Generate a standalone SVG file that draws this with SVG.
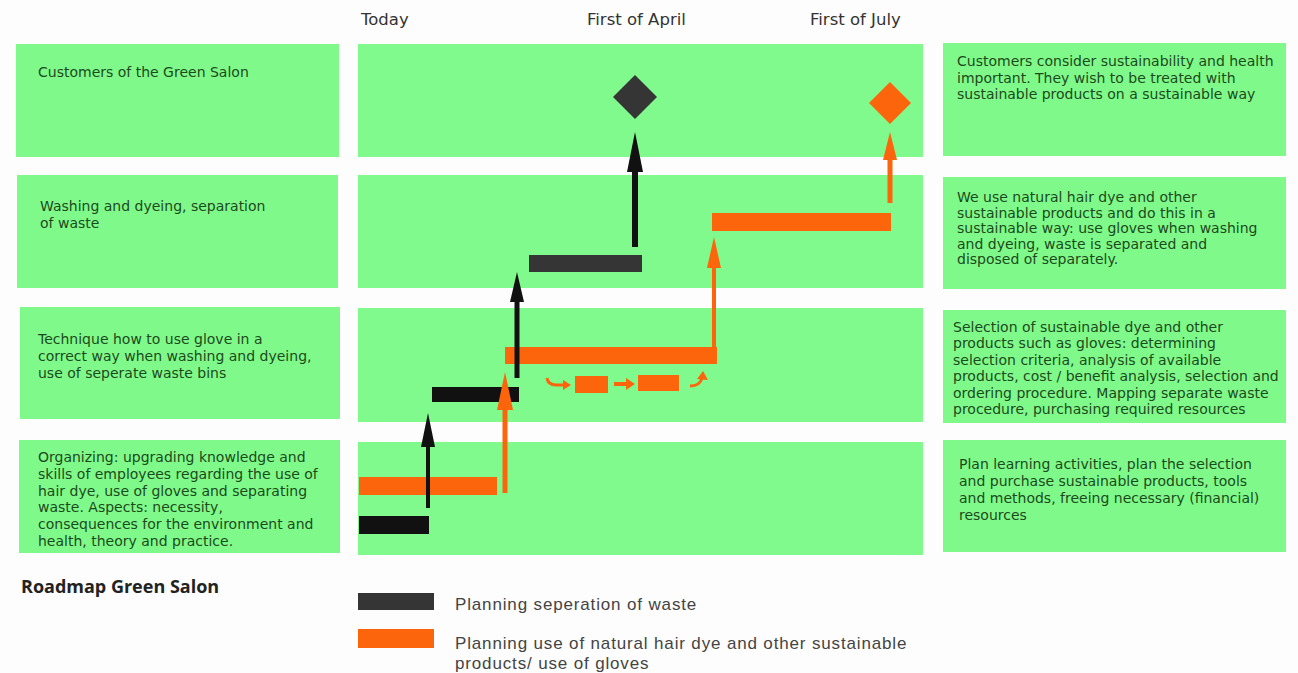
<svg xmlns="http://www.w3.org/2000/svg" width="1298" height="673" viewBox="0 0 1298 673">
<style>
.box{fill:#7ffa8a}
.mid{fill:#80fa8c}
.t{font-family:"DejaVu Sans",Verdana,sans-serif;font-size:14px;fill:#1c4a1c}
.hdr{font-family:"DejaVu Sans",Verdana,sans-serif;font-size:16.5px;fill:#333}
.leg{font-family:"Liberation Sans",Arial,sans-serif;font-size:17px;letter-spacing:0.85px;fill:#444}
.ttl{font-family:"Open Sans","Liberation Sans",sans-serif;font-size:18px;font-weight:bold;fill:#222}
.blk{fill:#111}
.gry{fill:#353535}
.org{fill:#fd650c}
.sb{stroke:#111;fill:none}
.so{stroke:#fd650c;fill:none}
</style>
<rect width="1298" height="673" fill="#fdfdfd"/>

<g id="headers">
<text class="hdr" x="361" y="25">Today</text>
<text class="hdr" x="587" y="25">First of April</text>
<text class="hdr" x="810" y="25">First of July</text>
</g>

<g id="row1">
<rect class="box" x="16" y="44" width="323" height="113"/>
<rect class="mid" x="358" y="44" width="565" height="113"/>
<rect class="box" x="943" y="43" width="343" height="113"/>
<text class="t" x="38" y="77">Customers of the Green Salon</text>
<text class="t" x="957" y="66"><tspan x="957">Customers consider sustainability and health</tspan><tspan x="957" dy="16.5">important. They wish to be treated with</tspan><tspan x="957" dy="16.5">sustainable products on a sustainable way</tspan></text>
</g>

<g id="row2">
<rect class="box" x="17" y="175" width="321" height="113"/>
<rect class="mid" x="358" y="175" width="565" height="113"/>
<rect class="box" x="943" y="177" width="343" height="112"/>
<text class="t" x="40" y="211"><tspan x="40">Washing and dyeing, separation</tspan><tspan x="40" dy="17">of waste</tspan></text>
<text class="t" x="957" y="202"><tspan x="957">We use natural hair dye and other</tspan><tspan x="957" dy="15.5">sustainable products and do this in a</tspan><tspan x="957" dy="15.5">sustainable way: use gloves when washing</tspan><tspan x="957" dy="15.5">and dyeing, waste is separated and</tspan><tspan x="957" dy="15.5">disposed of separately.</tspan></text>
</g>

<g id="row3">
<rect class="box" x="20" y="307" width="320" height="112"/>
<rect class="mid" x="358" y="308" width="565" height="114"/>
<rect class="box" x="943" y="310" width="343" height="113"/>
<text class="t" x="38" y="344"><tspan x="38">Technique how to use glove in a</tspan><tspan x="38" dy="17">correct way when washing and dyeing,</tspan><tspan x="38" dy="17">use of seperate waste bins</tspan></text>
<text class="t" x="953" y="332"><tspan x="953">Selection of sustainable dye and other</tspan><tspan x="953" dy="16.4">products such as gloves: determining</tspan><tspan x="953" dy="16.4">selection criteria, analysis of available</tspan><tspan x="953" dy="16.4">products, cost / benefit analysis, selection and</tspan><tspan x="953" dy="16.4">ordering procedure. Mapping separate waste</tspan><tspan x="953" dy="16.4">procedure, purchasing required resources</tspan></text>
</g>

<g id="row4">
<rect class="box" x="19" y="440" width="321" height="113"/>
<rect class="mid" x="358" y="442" width="565" height="113"/>
<rect class="box" x="943" y="440" width="343" height="112"/>
<text class="t" x="38" y="462"><tspan x="38">Organizing: upgrading knowledge and</tspan><tspan x="38" dy="16.8">skills of employees regarding the use of</tspan><tspan x="38" dy="16.8">hair dye, use of gloves and separating</tspan><tspan x="38" dy="16.8">waste. Aspects: necessity,</tspan><tspan x="38" dy="16.8">consequences for the environment and</tspan><tspan x="38" dy="16.8">health, theory and practice.</tspan></text>
<text class="t" x="959" y="469"><tspan x="959">Plan learning activities, plan the selection</tspan><tspan x="959" dy="17">and purchase sustainable products, tools</tspan><tspan x="959" dy="17">and methods, freeing necessary (financial)</tspan><tspan x="959" dy="17">resources</tspan></text>
</g>

<g id="milestones">
<polygon class="gry" points="635,75 657,97 635,119 613,97"/>
<polygon class="org" points="890,82 911,103 890,124 869,103"/>
</g>

<g id="bars">
<rect class="blk" x="359" y="516" width="70" height="18"/>
<rect class="org" x="359" y="477" width="138" height="18"/>
<rect class="blk" x="432" y="387" width="87" height="15"/>
<rect class="org" x="505" y="347" width="212" height="17"/>
<rect class="gry" x="529" y="255" width="113" height="17"/>
<rect class="org" x="712" y="213" width="179" height="18"/>
</g>

<g id="connectors">
<line class="sb" x1="428" y1="508" x2="428" y2="440" stroke-width="4"/>
<polygon class="blk" points="428,413 435,447 421,447"/>
<line class="sb" x1="517" y1="378" x2="517" y2="296" stroke-width="5"/>
<polygon class="blk" points="517,272 524,302 510,302"/>
<line class="sb" x1="635" y1="247" x2="635" y2="165" stroke-width="6"/>
<polygon class="blk" points="635,132 643,172 627,172"/>
<line class="so" x1="505" y1="493" x2="505" y2="405" stroke-width="5"/>
<polygon class="org" points="505,372 513,410 497,410"/>
<line class="so" x1="714" y1="347" x2="714" y2="262" stroke-width="4"/>
<polygon class="org" points="714,237 721,268 707,268"/>
<line class="so" x1="890" y1="203" x2="890" y2="155" stroke-width="5"/>
<polygon class="org" points="890,132 897,160 883,160"/>
</g>

<g id="process-icons">
<path class="so" d="M547,378 Q548,385 556,385 L564,385" stroke-width="3"/>
<polygon class="org" points="571,385 563,380 563,390"/>
<rect class="org" x="575" y="376" width="33" height="17"/>
<line class="so" x1="614" y1="384" x2="627" y2="384" stroke-width="4"/>
<polygon class="org" points="635,384 626,378 626,390"/>
<rect class="org" x="638" y="375" width="41" height="16"/>
<path class="so" d="M690,386 Q700,386 702,378" stroke-width="3"/>
<polygon class="org" points="703,371 708,380 697,379"/>
</g>

<g id="legend">
<text class="ttl" x="21" y="593">Roadmap Green Salon</text>
<rect class="gry" x="358" y="593" width="76" height="17"/>
<text class="leg" x="455" y="610">Planning seperation of waste</text>
<rect class="org" x="358" y="629" width="76" height="19"/>
<text class="leg" x="455" y="649">Planning use of natural hair dye and other sustainable</text>
<text class="leg" x="455" y="669">products/ use of gloves</text>
</g>
</svg>
